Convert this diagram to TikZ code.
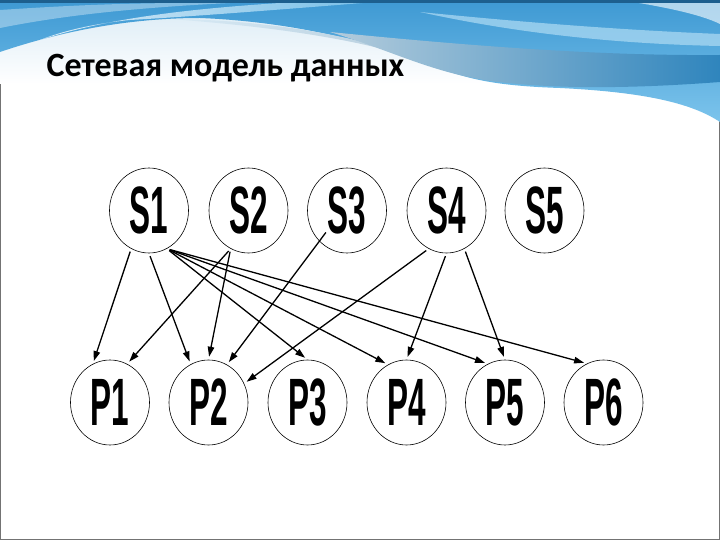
\documentclass[tikz,border=0pt]{standalone}
\usepackage{fontspec}
\usepackage{graphicx}
\usetikzlibrary{arrows.meta,shapes.geometric}
\newfontfamily\titlefont{Carlito}
\newfontfamily\recfont{Liberation Sans}
\def\reclabel#1{\scalebox{0.47}[1]{#1}}
\definecolor{wavedark}{HTML}{2F85BD}
\definecolor{wavemid}{HTML}{3E99D3}
\definecolor{wavelight}{HTML}{7CC4EC}
\definecolor{wavewash}{HTML}{D8EAF5}
\definecolor{wavegray}{HTML}{B4CCDC}
\definecolor{wavetop}{HTML}{1D5F8E}
\tikzset{
	record/.style={draw, line width=0.6pt, ellipse, minimum width=79pt, minimum height=85pt, inner sep=0pt, font=\recfont\bfseries\fontsize{67}{69}\selectfont},
	link/.style={line width=1.3pt, shorten <=3pt, shorten >=3pt, -{Triangle[length=10pt,width=6.5pt]}}
}

\begin{document}
\begin{tikzpicture}[x=1pt, y=-1pt]
		%%%%% START %%%%%
		\useasboundingbox (0, 0) rectangle (720, 540);
		\fill[white] (0, 0) rectangle (720, 540);
		\draw[line width=1pt, color=black!55] (0.5, 0.5) rectangle (719.5, 539.5);
		
		% header waves
		\shade[top color=wavewash, bottom color=white] (0, 0) rectangle (480, 84);
		\shade[top color=wavemid, bottom color=wavelight] (0, 0) -- (720, 0) -- (720, 122) .. controls (690, 102) and (640, 92) .. (560, 88) .. controls (500, 86) and (470, 80) .. (440, 68) .. controls (380, 45) and (300, 22) .. (200, 18) .. controls (120, 18) and (50, 35) .. (0, 52) -- cycle;
		\shade[left color=wavewash, right color=wavegray] (170, 19) .. controls (280, 20) and (380, 40) .. (440, 68) .. controls (400, 50) and (320, 30) .. (170, 19) -- cycle;
		\shade[left color=white, right color=wavelight, opacity=0.8] (40, 40) .. controls (120, 14) and (220, 6) .. (330, 0) -- (400, 0) .. controls (300, 8) and (200, 16) .. (130, 20) .. controls (90, 24) and (60, 32) .. (40, 40) -- cycle;
		\shade[left color=wavegray, right color=wavedark] (330, 32) .. controls (470, 46) and (600, 56) .. (720, 55) -- (720, 82) .. controls (640, 88) and (560, 90) .. (490, 81) .. controls (430, 72) and (390, 50) .. (330, 32) -- cycle;
		\fill[wavelight!60!white, opacity=0.7] (420, 12) .. controls (520, 22) and (620, 30) .. (720, 34) -- (720, 46) .. controls (620, 44) and (520, 34) .. (420, 12) -- cycle;
		\fill[white, opacity=0.35] (0, 10) .. controls (60, 6) and (120, 3) .. (190, 3) -- (230, 3) .. controls (130, 8) and (60, 16) .. (0, 28) -- cycle;
		\fill[white, opacity=0.6] (620, 0) .. controls (660, 6) and (700, 14) .. (720, 24) -- (720, 0) -- cycle;
		\fill[wavetop] (0, 0) rectangle (720, 3);
		
		\node[anchor=base west, font=\titlefont\bfseries\fontsize{34}{36}\selectfont] (title) at (43, 77) {Сетевая модель данных};
		
		% upper records
		\node[record] (S1) at (149, 210.5) {\reclabel{S1}};
		\node[record] (S2) at (248.5, 210.5) {\reclabel{S2}};
		\node[record] (S3) at (347, 210.5) {\reclabel{S3}};
		\node[record] (S4) at (446.5, 210.5) {\reclabel{S4}};
		\node[record] (S5) at (544.5, 210.5) {\reclabel{S5}};
		
		% lower records
		\node[record] (P1) at (110, 402.5) {\reclabel{P1}};
		\node[record] (P2) at (208.5, 402.5) {\reclabel{P2}};
		\node[record] (P3) at (307.5, 402.5) {\reclabel{P3}};
		\node[record] (P4) at (406.5, 402.5) {\reclabel{P4}};
		\node[record] (P5) at (505, 402.5) {\reclabel{P5}};
		\node[record] (P6) at (603.5, 402.5) {\reclabel{P6}};
		
		% links
		\draw[link] (S1.-115) -- (P1.114);
		\draw[link] (S1.-90) -- (P2.115);
		\draw[link] (S1.-65) -- (P3.90);
		\draw[link] (S1.-65) -- (P4.116);
		\draw[link] (S1.-65) -- (P5.114);
		\draw[link] (S1.-65) -- (P6.113);
		
		\draw[link] (S2.-115) -- (P1.66);
		\draw[link] (S2.-115) -- (P2.90);
		
		\draw[link, shorten <=-11pt] (S3.-132) -- (P2.64);
		
		\draw[link] (S4.-115) -- (P2.28);
		\draw[link] (S4.-90) -- (P4.90);
		\draw[link] (S4.-65) -- (P5.90);
		%%%%% END %%%%%
	\end{tikzpicture}
\end{document}
